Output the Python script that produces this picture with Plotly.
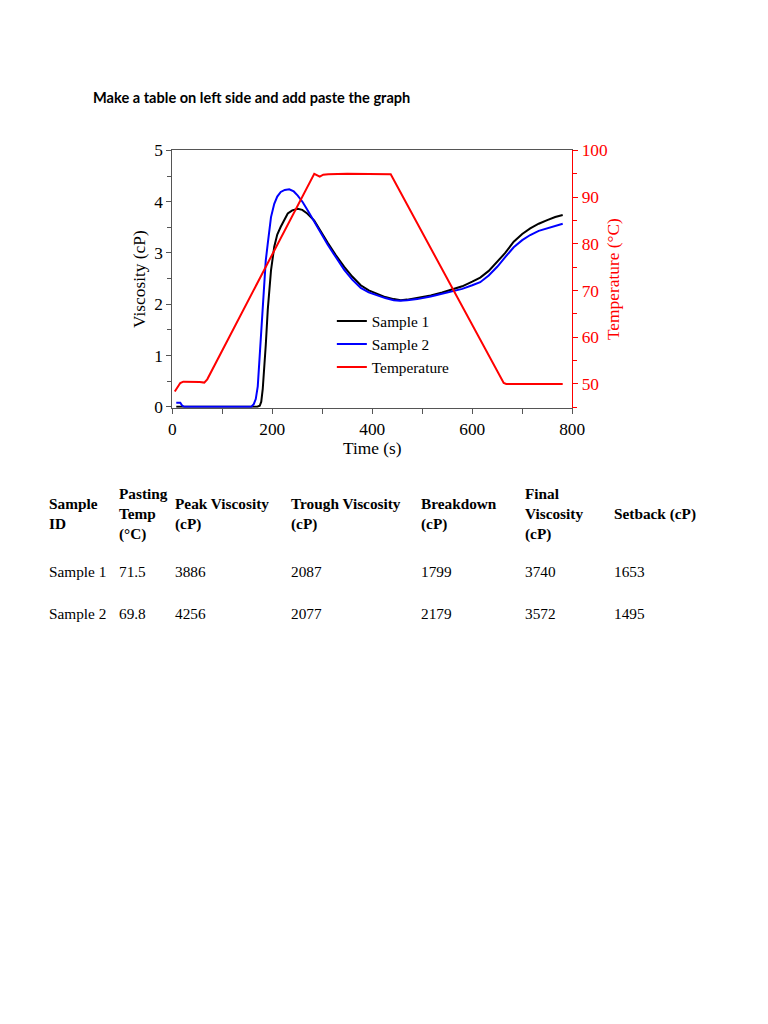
import plotly.graph_objects as go

# ---------------- data ----------------
s1_time = [8, 160, 170, 175, 178, 181, 184, 187, 191, 194, 197.5, 204, 210, 217, 224, 231, 240, 251,
           260, 270, 284, 297, 311, 327, 344, 360, 377, 393, 410, 426, 443, 457, 470, 490, 517, 540,
           557, 580, 600, 616, 633, 650, 666, 683, 700, 716, 733, 750, 766, 781]
s1_visc = [0.0, 0.0, 0.0, 0.02, 0.1, 0.35, 0.72, 1.2, 1.89, 2.3, 2.66, 3.12, 3.36, 3.51, 3.65, 3.77, 3.83, 3.86,
           3.84, 3.77, 3.63, 3.41, 3.2, 2.96, 2.73, 2.54, 2.37, 2.27, 2.2, 2.14, 2.1, 2.08, 2.09, 2.12, 2.17, 2.23,
           2.28, 2.35, 2.44, 2.52, 2.65, 2.82, 3.0, 3.22, 3.37, 3.48, 3.57, 3.64, 3.7, 3.74]

s2_time = [8, 16, 20, 24, 150, 158, 163, 167, 171, 174, 177.5, 181, 184, 187, 191, 194, 197.5, 204, 210, 217,
           225, 234, 243, 251, 261, 271, 284, 297, 311, 327, 344, 360, 377, 393, 410, 426, 443, 455, 470,
           490, 517, 540, 557, 580, 600, 616, 633, 650, 666, 683, 700, 716, 733, 750, 766, 781]
s2_visc = [0.08, 0.08, 0.02, 0.0, 0.0, 0.0, 0.05, 0.15, 0.4, 0.85, 1.5, 2.05, 2.47, 2.85, 3.18, 3.48, 3.7, 3.96, 4.1, 4.19,
           4.23, 4.24, 4.2, 4.12, 3.99, 3.83, 3.61, 3.38, 3.16, 2.92, 2.67, 2.48, 2.32, 2.23, 2.17, 2.12, 2.08, 2.07, 2.08,
           2.1, 2.15, 2.2, 2.24, 2.3, 2.37, 2.43, 2.56, 2.73, 2.92, 3.11, 3.25, 3.35, 3.43, 3.48, 3.53, 3.57]

temp_time = [5, 10, 16, 22, 40, 55, 64, 70, 284, 290, 295, 302, 312, 350, 437, 663, 668, 781]
temp_vals = [48.4, 49.3, 50.2, 50.5, 50.5, 50.4, 50.3, 51.0, 95.0, 94.6, 94.4, 94.8, 94.9, 95.0, 94.9, 50.2, 50.0, 50.0]

x_ticks = [0, 200, 400, 600, 800]
visc_ticks = [0, 1, 2, 3, 4, 5]
temp_ticks = [50, 60, 70, 80, 90, 100]

table_headers = ["Sample<br>ID", "Pasting<br>Temp<br>(°C)", "Peak Viscosity<br>(cP)", "Trough Viscosity<br>(cP)",
                 "Breakdown<br>(cP)", "Final<br>Viscosity<br>(cP)", "Setback (cP)"]
row_sample1 = ["Sample 1", "71.5", "3886", "2087", "1799", "3740", "1653"]
row_sample2 = ["Sample 2", "69.8", "4256", "2077", "2179", "3572", "1495"]

title_text = "Make a table on left side and add paste the graph"

# ---------------- layout helpers ----------------
W, H = 752, 1008
AX, BX = 10.3, 0.98     # page x = AX + BX * figure x
AY, BY = 16.8, 0.9806   # page y = AY + BY * figure y
FS = 1 / 0.98           # font compensation

def px(x):
    return ((x - AX) / BX) / W
def py(y):
    return 1 - ((y - AY) / BY) / H

SERIF = "Liberation Serif, Times New Roman, serif"

fig = go.Figure()
fig.add_trace(go.Scatter(x=s1_time, y=s1_visc, mode="lines", name="Sample 1",
                         line=dict(color="black", width=2)))
fig.add_trace(go.Scatter(x=s2_time, y=s2_visc, mode="lines", name="Sample 2",
                         line=dict(color="#0000ff", width=2)))
fig.add_trace(go.Scatter(x=temp_time, y=temp_vals, mode="lines", name="Temperature",
                         line=dict(color="#ff0000", width=2), yaxis="y2"))

axis_gray = "#555555"
tick_fs = 17 * FS
fig.update_layout(
    width=W, height=H,
    margin=dict(l=0, r=0, t=0, b=0),
    paper_bgcolor="white", plot_bgcolor="white",
    font=dict(family=SERIF, size=tick_fs, color="black"),
    showlegend=True,
    legend=dict(x=px(331), y=py(304), xanchor="left", yanchor="top",
                font=dict(family=SERIF, size=15 * FS, color="black"),
                bgcolor="rgba(0,0,0,0)", tracegroupgap=0, itemwidth=30),
    xaxis=dict(domain=[px(171), px(572)], range=[0, 800], tickvals=x_ticks,
               showgrid=False, zeroline=False, showline=True, linecolor=axis_gray, linewidth=1,
               mirror=True, ticks="outside", ticklen=5, tickcolor=axis_gray,
               minor=dict(dtick=100, tick0=0, ticks="outside", ticklen=5, tickcolor=axis_gray),
               title=dict(text="Time (s)", font=dict(family=SERIF, size=tick_fs), standoff=2),
               tickfont=dict(family=SERIF, size=tick_fs)),
    yaxis=dict(domain=[py(407), py(150)], range=[-0.02, 5], tickvals=visc_ticks,
               showgrid=False, zeroline=False, showline=True, linecolor=axis_gray, linewidth=1,
               ticks="outside", ticklen=5, tickcolor=axis_gray,
               minor=dict(dtick=0.5, tick0=0, ticks="outside", ticklen=4, tickcolor=axis_gray),
               title=dict(text="Viscosity (cP)", font=dict(family=SERIF, size=tick_fs), standoff=4),
               tickfont=dict(family=SERIF, size=tick_fs)),
    yaxis2=dict(overlaying="y", side="right", anchor="x", range=[44.9, 100], tickvals=temp_ticks,
                showgrid=False, zeroline=False, showline=True, linecolor="#ff0000", linewidth=1,
                ticks="outside", ticklen=5, tickcolor="#ff0000",
                minor=dict(dtick=5, tick0=0, ticks="outside", ticklen=4, tickcolor="#ff0000"),
                title=dict(text="Temperature (°C)", font=dict(family=SERIF, size=tick_fs, color="#ff0000"), standoff=0),
                tickfont=dict(family=SERIF, size=tick_fs, color="#ff0000")),
)

annotations = []
annotations.append(dict(text="<b>" + title_text + "</b>", x=px(93 - 3), y=py(97), xref="paper", yref="paper",
                        xanchor="left", yanchor="middle", showarrow=False,
                        font=dict(family="Lato, Open Sans, sans-serif", size=14.3 * FS, color="black")))

col_x = [48, 118, 174, 291, 421, 525, 614]
for cx, h in zip(col_x, table_headers):
    annotations.append(dict(text="<b>" + h + "</b>", x=px(cx - 2.5), y=py(513), xref="paper", yref="paper",
                            xanchor="left", yanchor="middle", align="left", showarrow=False,
                            font=dict(family=SERIF, size=15 * FS, color="black")))
for row, ry in ((row_sample1, 570.5), (row_sample2, 612.5)):
    for cx, v in zip(col_x, row):
        annotations.append(dict(text=v, x=px(cx - 2.5), y=py(ry), xref="paper", yref="paper",
                                xanchor="left", yanchor="middle", align="left", showarrow=False,
                                font=dict(family=SERIF, size=15 * FS, color="black")))
fig.update_layout(annotations=annotations)

fig.write_html("out.html")
